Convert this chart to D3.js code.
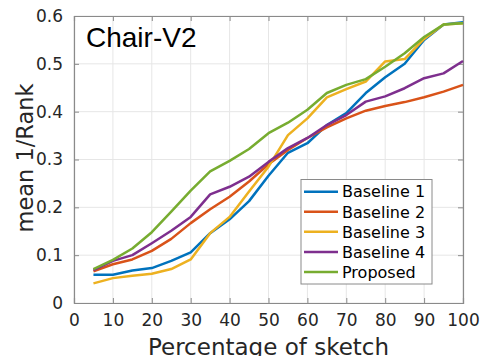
<!DOCTYPE html>
<html><head><meta charset="utf-8">
<script src="https://cdn.jsdelivr.net/npm/d3@7"></script>
<style>body{margin:0;background:#fff}svg{display:block}</style>
</head><body>
<svg id="c" width="480" height="356"></svg>
<script>
const xValues = [5,10,15,20,25,30,35,40,45,50,55,60,65,70,75,80,85,90,95,100];
const seriesNames = ["Baseline 1","Baseline 2","Baseline 3","Baseline 4","Proposed"];
const baseline1 = [0.059,0.059,0.068,0.073,0.088,0.106,0.146,0.175,0.213,0.266,0.314,0.334,0.372,0.397,0.439,0.472,0.500,0.550,0.582,0.587];
const baseline2 = [0.066,0.081,0.091,0.109,0.134,0.167,0.196,0.222,0.254,0.290,0.320,0.345,0.367,0.386,0.402,0.412,0.420,0.430,0.442,0.456];
const baseline3 = [0.041,0.052,0.057,0.061,0.071,0.091,0.146,0.180,0.233,0.285,0.351,0.386,0.430,0.447,0.463,0.505,0.510,0.552,0.582,0.585];
const baseline4 = [0.069,0.088,0.100,0.125,0.151,0.180,0.227,0.243,0.264,0.295,0.324,0.345,0.372,0.393,0.421,0.432,0.449,0.470,0.480,0.506];
const proposed  = [0.071,0.090,0.114,0.148,0.191,0.235,0.275,0.297,0.322,0.355,0.377,0.404,0.439,0.456,0.468,0.494,0.522,0.556,0.582,0.585];
const xTicks = [0,10,20,30,40,50,60,70,80,90,100];
const yTicks = [0,0.1,0.2,0.3,0.4,0.5,0.6];
const colors = ["#0072BD","#D95319","#EDB120","#7E2F8E","#77AC30"];
const allSeries = [baseline1,baseline2,baseline3,baseline4,proposed];

const svg = d3.select("#c");
const L=74,R=463,T=16,B=303;
const x = d3.scaleLinear().domain([0,100]).range([L,R]);
const y = d3.scaleLinear().domain([0,0.6]).range([B,T]);
const font = "'DejaVu Sans', sans-serif";

// grid
const g = svg.append("g");
g.selectAll(".gx").data(xTicks).enter().append("line")
  .attr("x1",d=>x(d)).attr("x2",d=>x(d)).attr("y1",T).attr("y2",B)
  .attr("stroke","#e6e6e6").attr("stroke-width",1);
g.selectAll(".gy").data(yTicks).enter().append("line")
  .attr("y1",d=>y(d)).attr("y2",d=>y(d)).attr("x1",L).attr("x2",R)
  .attr("stroke","#e6e6e6").attr("stroke-width",1);

// axes
const ax = svg.append("g").attr("transform",`translate(0,${B})`)
  .call(d3.axisBottom(x).tickValues(xTicks).tickSize(-5).tickPadding(11).tickFormat(d3.format("d")));
const ay = svg.append("g").attr("transform",`translate(${L},0)`)
  .call(d3.axisLeft(y).tickValues(yTicks).tickSize(-5).tickPadding(11).tickFormat(d=>d===0?"0":d3.format(".1f")(d)));
const axT = svg.append("g").attr("transform",`translate(0,${T})`)
  .call(d3.axisTop(x).tickValues(xTicks).tickSize(-5).tickFormat(""));
const ayR = svg.append("g").attr("transform",`translate(${R},0)`)
  .call(d3.axisRight(y).tickValues(yTicks).tickSize(-5).tickFormat(""));
[ax,ay,axT,ayR].forEach(a=>{
  a.selectAll("path").attr("stroke","#8a8a8a").attr("stroke-width",1.2);
  a.selectAll("line").attr("stroke","#8a8a8a");
  a.selectAll("text").attr("font-family",font).attr("font-size",17).attr("fill","#262626");
});

// lines
const line = d3.line().x((d,i)=>x(xValues[i])).y(d=>y(d));
svg.append("g").selectAll("path").data(allSeries).enter().append("path")
  .attr("d",d=>line(d)).attr("fill","none")
  .attr("stroke",(d,i)=>colors[i]).attr("stroke-width",2.5).attr("stroke-linejoin","round");

// title
svg.append("text").attr("x",86).attr("y",47).text("Chair-V2")
  .attr("font-family","'Liberation Sans', Arial, sans-serif").attr("font-size",28).attr("fill","#000");

// axis labels
svg.append("text").attr("x",268.5).attr("y",355).attr("text-anchor","middle")
  .attr("font-family",font).attr("font-size",23).attr("fill","#262626").text("Percentage of sketch");
svg.append("text").attr("transform","translate(33,158) rotate(-90)").attr("text-anchor","middle")
  .attr("font-family",font).attr("font-size",22.5).attr("fill","#262626").text("mean 1/Rank");

// legend
const lg = svg.append("g");
lg.append("rect").attr("x",301).attr("y",179.5).attr("width",131).attr("height",104.5)
  .attr("fill","#fff").attr("stroke","#8a8a8a").attr("stroke-width",1);
const rowY = d3.scalePoint().domain(seriesNames).range([191.7,272]);
seriesNames.forEach((n,i)=>{
  lg.append("line").attr("x1",304).attr("x2",338).attr("y1",rowY(n)).attr("y2",rowY(n))
    .attr("stroke",colors[i]).attr("stroke-width",2.5);
  lg.append("text").attr("x",342).attr("y",rowY(n)).attr("dy","0.36em")
    .attr("font-family",font).attr("font-size",16).attr("fill","#000").text(n);
});
</script>
</body></html>
